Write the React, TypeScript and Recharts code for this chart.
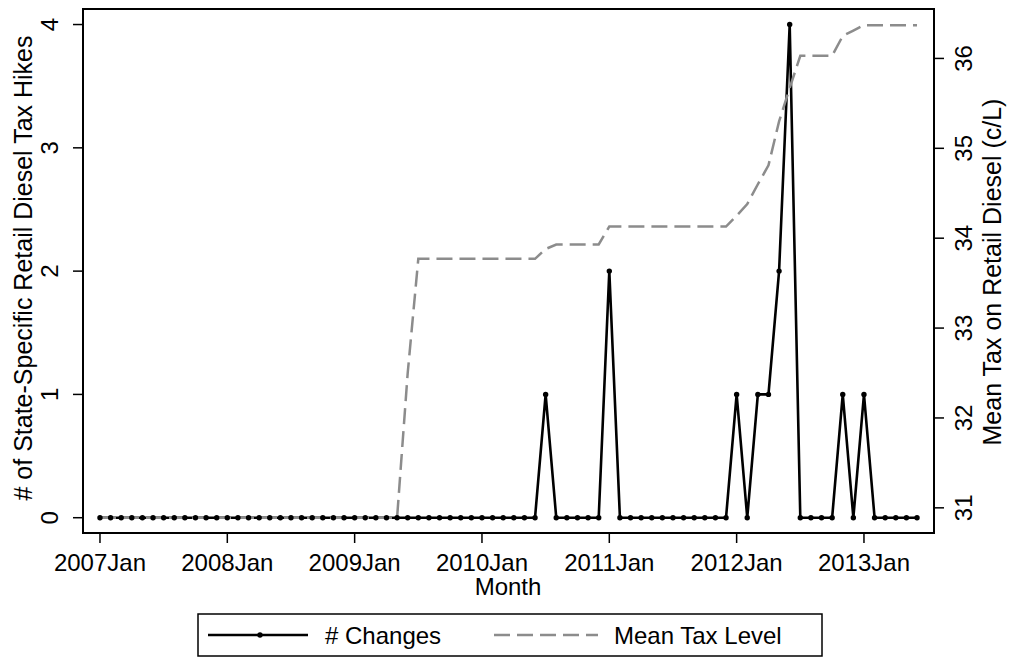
import React from 'react';
import { LineChart, Line, XAxis, YAxis, ReferenceArea } from 'recharts';

// months since 2007Jan (0 = 2007Jan ... 77 = 2013Jun)
const tickMonths = [0, 12, 24, 36, 48, 60, 72];
const tickLabels = ['2007Jan', '2008Jan', '2009Jan', '2010Jan', '2011Jan', '2012Jan', '2013Jan'];

// # of state-specific retail diesel tax hikes per month
const changes = [
  0, 0, 0, 0, 0, 0, 0, 0, 0, 0, 0, 0,
  0, 0, 0, 0, 0, 0, 0, 0, 0, 0, 0, 0,
  0, 0, 0, 0, 0, 0, 0, 0, 0, 0, 0, 0,
  0, 0, 0, 0, 0, 0, 1, 0, 0, 0, 0, 0,
  2, 0, 0, 0, 0, 0, 0, 0, 0, 0, 0, 0,
  1, 0, 1, 1, 2, 4, 0, 0, 0, 0, 1, 0,
  1, 0, 0, 0, 0, 0,
];

// mean tax on retail diesel (c/L)
const meanTax = [
  30.89, 30.89, 30.89, 30.89, 30.89, 30.89, 30.89, 30.89, 30.89, 30.89, 30.89, 30.89,
  30.89, 30.89, 30.89, 30.89, 30.89, 30.89, 30.89, 30.89, 30.89, 30.89, 30.89, 30.89,
  30.89, 30.89, 30.89, 30.89, 30.89, 32.5, 33.77, 33.77, 33.77, 33.77, 33.77, 33.77,
  33.77, 33.77, 33.77, 33.77, 33.77, 33.77, 33.88, 33.93, 33.93, 33.93, 33.93, 33.93,
  34.13, 34.13, 34.13, 34.13, 34.13, 34.13, 34.13, 34.13, 34.13, 34.13, 34.13, 34.13,
  34.25, 34.38, 34.6, 34.81, 35.3, 35.67, 36.03, 36.03, 36.03, 36.03, 36.25, 36.31,
  36.37, 36.37, 36.37, 36.37, 36.37, 36.37,
];

const leftTicks = [0, 1, 2, 3, 4];
const rightTicks = [31, 32, 33, 34, 35, 36];

const xDomain = [-1.6, 78.6];
const leftDomain = [-0.124, 4.126];
const rightDomain = [30.72, 36.55];

const data = changes.map((c, i) => ({ m: i, changes: c, tax: meanTax[i] }));

const FONT = '"Liberation Sans", Arial, sans-serif';

const vText = (cx: number, cy: number, value: any, size = 24) => (
  <text
    x={cx}
    y={cy}
    transform={`rotate(-90 ${cx} ${cy})`}
    textAnchor="middle"
    dominantBaseline="central"
    fontFamily={FONT}
    fontSize={size}
    fill="#000"
  >
    {value}
  </text>
);

export default function App() {
  return (
    <div style={{ position: 'absolute', left: 0, top: 0, width: 1010, height: 658, background: '#fff' }}>
      <LineChart width={1010} height={658} data={data} margin={{ top: 9, right: 0, bottom: 0, left: 0 }}>
        <XAxis
          dataKey="m"
          type="number"
          domain={xDomain}
          ticks={tickMonths}
          interval={0}
          height={125}
          tickSize={10}
          axisLine={{ stroke: '#000', strokeWidth: 2 }}
          tickLine={{ stroke: '#000', strokeWidth: 1.5 }}
          tick={(p: any) => (
            <text x={p.x} y={562} textAnchor="middle" dominantBaseline="central" fontFamily={FONT} fontSize={24} fill="#000">
              {tickLabels[tickMonths.indexOf(p.payload.value)]}
            </text>
          )}
          label={() => (
            <text x={508} y={586} textAnchor="middle" dominantBaseline="central" fontFamily={FONT} fontSize={24} fill="#000">
              Month
            </text>
          )}
        />
        <YAxis
          yAxisId="left"
          orientation="left"
          width={83}
          domain={leftDomain}
          ticks={leftTicks}
          interval={0}
          tickSize={10}
          axisLine={{ stroke: '#000', strokeWidth: 2 }}
          tickLine={{ stroke: '#000', strokeWidth: 1.5 }}
          tick={(p: any) => vText(50, p.y, p.payload.value)}
          label={() => vText(23, 268, '# of State-Specific Retail Diesel Tax Hikes', 25)}
        />
        <YAxis
          yAxisId="right"
          orientation="right"
          width={76}
          domain={rightDomain}
          ticks={rightTicks}
          interval={0}
          tickSize={10}
          axisLine={{ stroke: '#000', strokeWidth: 2 }}
          tickLine={{ stroke: '#000', strokeWidth: 1.5 }}
          tick={(p: any) => vText(964, p.y, p.payload.value)}
          label={() => vText(992, 272, 'Mean Tax on Retail Diesel (c/L)', 25)}
        />
        <ReferenceArea
          yAxisId="left"
          x1={xDomain[0]}
          x2={xDomain[1]}
          y1={leftDomain[0]}
          y2={leftDomain[1]}
          fill="none"
          fillOpacity={0}
          stroke="#000"
          strokeWidth={2}
          ifOverflow="visible"
        />
        <Line
          yAxisId="left"
          type="linear"
          dataKey="changes"
          stroke="#000"
          strokeWidth={2.6}
          dot={{ r: 2.7, fill: '#000', stroke: '#000', strokeWidth: 0 }}
          activeDot={false}
          isAnimationActive={false}
        />
        <Line
          yAxisId="right"
          type="linear"
          dataKey="tax"
          stroke="#8c8c8c"
          strokeWidth={2.5}
          strokeDasharray="16 7"
          dot={false}
          activeDot={false}
          isAnimationActive={false}
        />
      </LineChart>
      <svg width={626} height={44} style={{ position: 'absolute', left: 197, top: 613 }}>
        <rect x={1} y={1} width={624} height={42} fill="#fff" stroke="#000" strokeWidth={1.5} />
        <line x1={11} y1={22} x2={111} y2={22} stroke="#000" strokeWidth={2.6} />
        <circle cx={63} cy={22} r={2.7} fill="#000" />
        <text x={128} y={22} dominantBaseline="central" fontFamily={FONT} fontSize={24} fill="#000"># Changes</text>
        <line x1={297} y1={22} x2={401} y2={22} stroke="#8c8c8c" strokeWidth={2.5} strokeDasharray="16 7" />
        <text x={417} y={22} dominantBaseline="central" fontFamily={FONT} fontSize={24} fill="#000">Mean Tax Level</text>
      </svg>
    </div>
  );
}
